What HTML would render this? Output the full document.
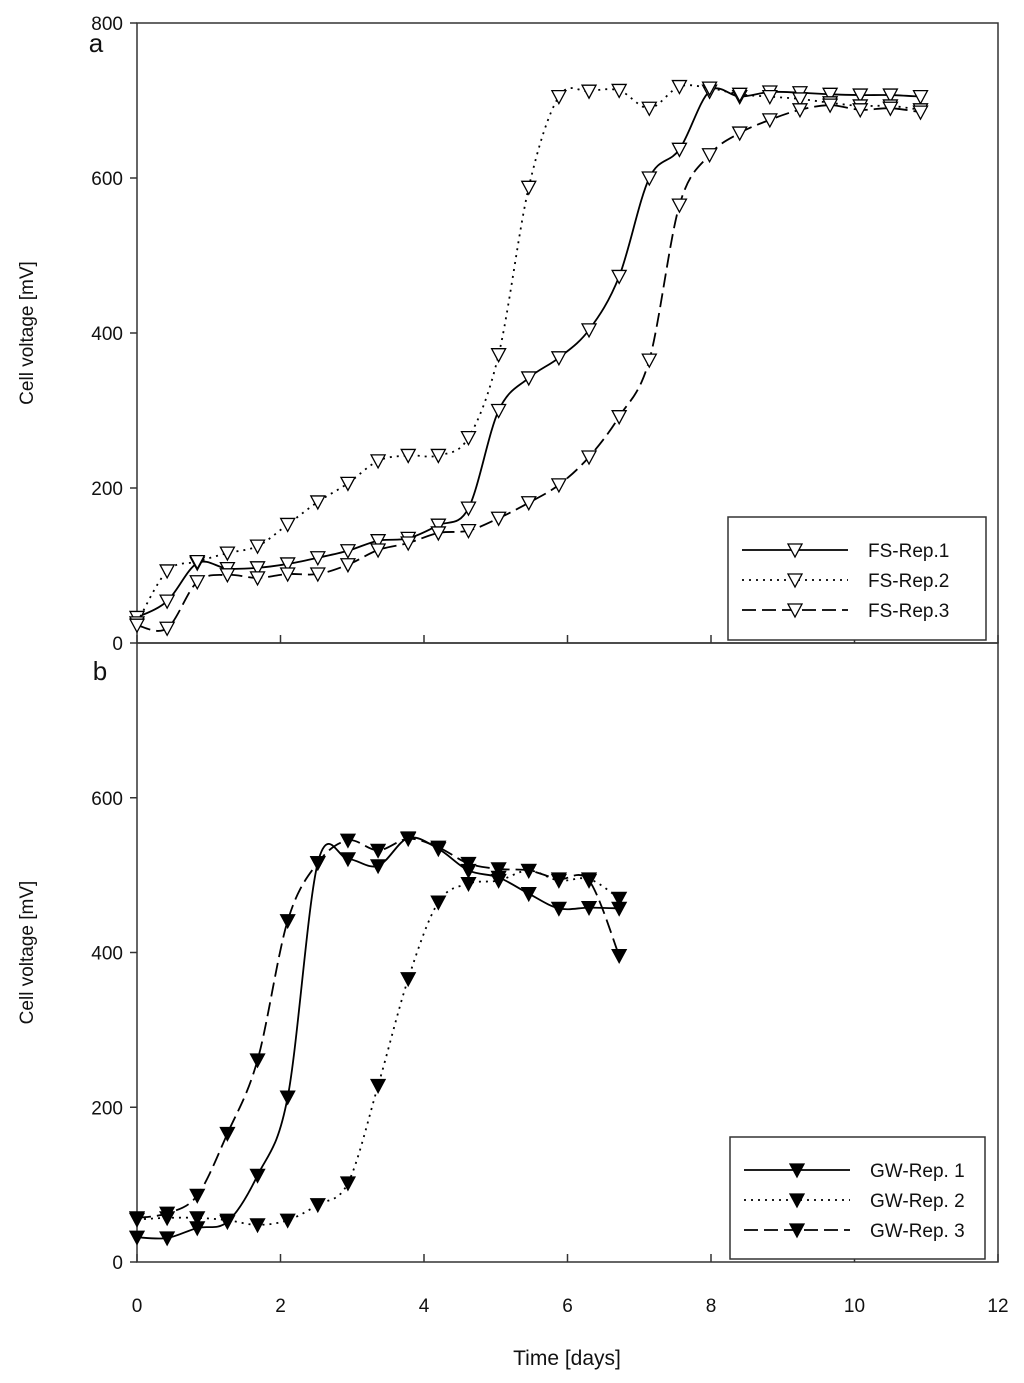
<!DOCTYPE html>
<html><head><meta charset="utf-8"><style>
body{margin:0;background:#fff;}
svg{display:block;font-family:"Liberation Sans",Arial,sans-serif;}
</style></head><body>
<svg id="chart" width="1024" height="1383" viewBox="0 0 1024 1383"></svg>
<script>
const days = [0,0.42,0.84,1.26,1.68,2.1,2.52,2.94,3.36,3.78,4.2,4.62,5.04,5.46,5.88,6.3,6.72,7.14,7.56,7.98,8.4,8.82,9.24,9.66,10.08,10.5,10.92];
const fsRep1 = [33,54,103,96,97,102,110,119,132,135,152,174,300,342,368,404,473,600,637,712,705,711,710,708,707,707,705];
const fsRep2 = [26,93,105,116,125,153,182,206,235,242,242,265,372,588,705,712,713,690,718,716,708,705,702,697,693,693,688];
const fsRep3 = [23,19,79,88,84,89,89,101,120,129,142,145,161,181,204,240,292,365,565,630,658,675,688,694,688,690,685];
const gwRep1 = [32,31,44,52,112,213,516,521,512,548,534,506,497,476,457,458,457];
const gwRep2 = [55,57,57,54,48,54,74,102,228,366,465,489,493,506,493,495,470];
const gwRep3 = [57,63,86,166,261,441,516,545,532,547,536,515,508,506,495,493,396];
const xTicks = [0,2,4,6,8,10,12];
const yTicksA = [0,200,400,600,800];
const yTicksB = [0,200,400,600];

const NS="http://www.w3.org/2000/svg";
const svg=document.getElementById('chart');
const X0=137,X1=998;
const xs=d=>X0+d*(X1-X0)/12;
const panels={a:{top:23,bot:643},b:{top:643,bot:1262}};
const ys=(p,v)=>panels[p].bot-v*(panels[p].bot-panels[p].top)/800;
function mk(tag,attrs,parent){const e=document.createElementNS(NS,tag);for(const k in attrs)e.setAttribute(k,attrs[k]);(parent||svg).appendChild(e);return e;}
function txt(x,y,s,size,anchor,name){const t=mk('text',{x:x,y:y,'font-size':size,'text-anchor':anchor||'middle',fill:'#111'});t.textContent=s;


return t;}
function spline(pts){let d=`M${pts[0][0]},${pts[0][1]}`;for(let i=0;i<pts.length-1;i++){const p0=pts[Math.max(0,i-1)],p1=pts[i],p2=pts[i+1],p3=pts[Math.min(pts.length-1,i+2)];
const c1=[p1[0]+(p2[0]-p0[0])/6,p1[1]+(p2[1]-p0[1])/6],c2=[p2[0]-(p3[0]-p1[0])/6,p2[1]-(p3[1]-p1[1])/6];
d+=` C${c1[0]},${c1[1]} ${c2[0]},${c2[1]} ${p2[0]},${p2[1]}`;}return d;}
const dashes={solid:'',dot:'2,5',dash:'14,6'};
function tri(x,y,filled,g){const p=mk('polygon',{points:`${x-7},${y-6} ${x+7},${y-6} ${x},${y+7}`,fill:filled?'#000':'#fff',stroke:'#000','stroke-width':1.3},g);

}
function series(p,vals,style,filled,name){const g=mk('g',{});


const pts=vals.map((v,i)=>[xs(days[i]),ys(p,v)]);
const path=mk('path',{d:spline(pts),fill:'none',stroke:'#000','stroke-width':1.8,'stroke-dasharray':dashes[style]},g);


pts.forEach(q=>tri(q[0],q[1],filled,g));}
// frames
['a','b'].forEach(p=>{const P=panels[p];
const r=mk('rect',{x:X0,y:P.top,width:X1-X0,height:P.bot-P.top,fill:'none',stroke:'#333','stroke-width':1.5});


const yt=p==='a'?yTicksA:yTicksB;
yt.forEach(v=>{mk('line',{x1:X0-7,x2:X0,y1:ys(p,v),y2:ys(p,v),stroke:'#333','stroke-width':1.5});
txt(X0-14,ys(p,v)+7,String(v),19,'end','y-tick-label');});
xTicks.forEach(t=>{mk('line',{x1:xs(t),x2:xs(t),y1:P.bot,y2:P.bot-8,stroke:'#333','stroke-width':1.5});});
const yl=txt(0,0,'Cell voltage [mV]',19,'middle','y-axis-title');
const cy=(P.top+P.bot)/2;yl.setAttribute('transform',`translate(33,${cy}) rotate(-90)`);
});
xTicks.forEach(t=>txt(xs(t),1312,String(t),19,'middle','x-tick-label'));
txt(567,1365,'Time [days]',21,'middle','x-axis-title');
txt(96,52,'a',26,'middle','panel-a-label');
txt(100,680,'b',26,'middle','panel-b-label');
series('a',fsRep1,'solid',false,'fs-rep1');
series('a',fsRep2,'dot',false,'fs-rep2');
series('a',fsRep3,'dash',false,'fs-rep3');
series('b',gwRep1,'solid',true,'gw-rep1');
series('b',gwRep2,'dot',true,'gw-rep2');
series('b',gwRep3,'dash',true,'gw-rep3');
function legend(x,y,w,h,labels,filled,name){const g=mk('g',{});


mk('rect',{x:x,y:y,width:w,height:h,fill:'#fff',stroke:'#333','stroke-width':1.5},g);
['solid','dot','dash'].forEach((s,i)=>{const yy=y+33+i*30;
mk('line',{x1:x+14,x2:x+120,y1:yy,y2:yy,stroke:'#000','stroke-width':1.8,'stroke-dasharray':dashes[s]},g);
tri(x+67,yy,filled,g);
const t=txt(x+140,yy+7,labels[i],19,'start','legend-entry');g.appendChild(t);});}
legend(728,517,258,123,['FS-Rep.1','FS-Rep.2','FS-Rep.3'],false,'legend-a');
legend(730,1137,255,122,['GW-Rep. 1','GW-Rep. 2','GW-Rep. 3'],true,'legend-b');
</script>
</body></html>
